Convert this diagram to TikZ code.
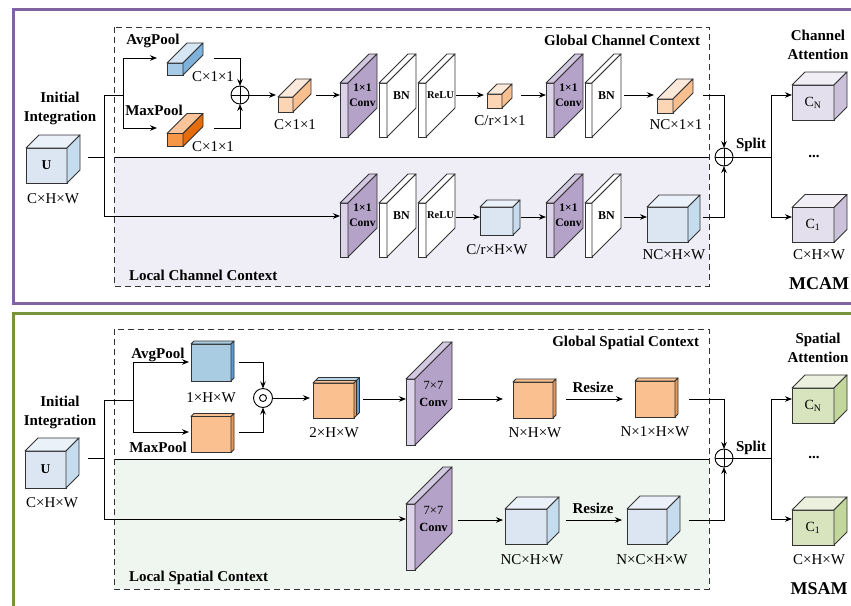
\documentclass[tikz,border=0pt]{standalone}
\usepackage{fontspec}
\setmainfont{Liberation Serif}
\usetikzlibrary{arrows.meta}
\definecolor{mpurple}{HTML}{8064A2}
\definecolor{mgreen}{HTML}{77933C}
\definecolor{lavbg}{HTML}{EFEDF5}
\definecolor{grnbg}{HTML}{EFF5EF}
\definecolor{edgec}{HTML}{333333}
\definecolor{convside}{HTML}{B4A2C8}
\definecolor{convfront}{HTML}{DCD3E8}
\definecolor{convtop}{HTML}{D3C8E1}
\definecolor{bbfront}{HTML}{A7CBE6}
\definecolor{bbtop}{HTML}{D6E6F4}
\definecolor{bbside}{HTML}{7FB2DA}
\definecolor{obfront}{HTML}{F79646}
\definecolor{obtop}{HTML}{FBC49A}
\definecolor{obside}{HTML}{E46C0A}
\definecolor{pfront}{HTML}{FCD5B4}
\definecolor{ptop}{HTML}{FDE9D9}
\definecolor{pside}{HTML}{F9BF8F}
\definecolor{lbfront}{HTML}{DCE6F2}
\definecolor{lbtop}{HTML}{EAF1F9}
\definecolor{lbside}{HTML}{C5DCEF}
\definecolor{pufront}{HTML}{E4DFEC}
\definecolor{putop}{HTML}{F1EEF6}
\definecolor{puside}{HTML}{CCC1DA}
\definecolor{gfront}{HTML}{D7E4BD}
\definecolor{gtop}{HTML}{EBF1DE}
\definecolor{gside}{HTML}{C3D69B}
\definecolor{sqblue}{HTML}{A9CCE3}
\definecolor{sqblueside}{HTML}{5B9BD5}
\definecolor{sqor}{HTML}{FAC090}
\definecolor{sqorside}{HTML}{E59A5A}
\definecolor{sqbl2}{HTML}{B7D7E8}
% name, cx, cy, w, h, depth, front, top, side
\newcommand\cuboid[9]{%
  \node[face, fill=#7, minimum width=#4pt, minimum height=#5pt] (#1) at (#2,#3) {};
  \draw[edge, fill=#8] (#1.north west) -- ++(#6,-#6) -- ++(#4,0) -- (#1.north east) -- cycle;
  \draw[edge, fill=#9] (#1.north east) -- ++(#6,-#6) -- ++(0,#5) -- (#1.south east) -- cycle;
}
\newcommand\oplusnode[3]{%
  \node[opl] (#1) at (#2,#3) {};
  \draw[conn] (#1.north) -- (#1.south) (#1.west) -- (#1.east);
}
\begin{document}
\begin{tikzpicture}[x=1pt,y=-1pt,
  every node/.style={inner sep=0pt, outer sep=0pt},
  face/.style={draw=edgec, line width=0.9pt, rectangle},
  edge/.style={draw=edgec, line width=0.9pt, line join=round},
  conn/.style={line width=0.9pt, draw=black},
  arr/.style={conn, -{Stealth[length=7pt,width=5.5pt]}},
  lbl/.style={font=\fontsize{15}{17}\selectfont},
  blbl/.style={font=\bfseries\fontsize{15}{19}\selectfont, align=center},
  convt/.style={font=\bfseries\fontsize{11.5}{15}\selectfont, align=center},
  bnt/.style={font=\bfseries\fontsize{12}{13}\selectfont},
  relut/.style={font=\bfseries\fontsize{10.5}{12}\selectfont},
  bigconv/.style={font=\fontsize{12.5}{17}\selectfont, align=center},
  subt/.style={font=\fontsize{14}{15}\selectfont},
  ctx/.style={dash pattern=on 6pt off 4pt, line width=0.9pt, draw=edgec},
  opl/.style={circle, draw, line width=0.9pt, minimum size=18pt, fill=white},
  odl/.style={circle, draw, line width=0.9pt, minimum size=19pt, fill=white},
]
\useasboundingbox (0,0) rectangle (851,605);
\clip (0,0) rectangle (851,605);
\fill[white] (0,0) rectangle (851,605);

% ================= MCAM panel =================
\draw[mpurple, line width=3pt] (13.5,9.5) rectangle (880,303);
\fill[lavbg] (114,157) rectangle (709,286);
\draw[conn] (114,157) -- (709,157);
\draw[ctx] (114,27) rectangle (709,286);
\node[blbl, anchor=east] (gcc) at (700,40) {Global Channel Context};
\node[blbl, anchor=west] (lcc) at (129,275) {Local Channel Context};

\node[blbl] (ii1) at (60,108) {Initial\\Integration};
\cuboid{u1}{46.5}{165.5}{41}{35}{13}{lbfront}{lbtop}{lbside}
\node[font=\bfseries\fontsize{13.5}{15}\selectfont] (u1t) at (u1) {U};
\node[lbl] (u1l) at (53,199) {C×H×W};

\coordinate (u1o) at (88,157);
\coordinate (j1a) at (104,95);
\coordinate (j1b) at (104,216);
\coordinate (j1c) at (123,95);
\coordinate (j1d) at (123,58);
\coordinate (j1e) at (123,128);
\draw[conn] (u1o) -- (u1o -| j1a);
\draw[conn] (j1a) -- (j1b);
\draw[conn] (j1a) -- (j1c);
\draw[conn] (j1d) -- (j1e);

\node[blbl] (avgl) at (153,41) {AvgPool};
\node[blbl] (maxl) at (154,110) {MaxPool};
\cuboid{avgb}{175}{69}{16}{12}{20}{bbfront}{bbtop}{bbside}
\cuboid{maxb}{175}{140}{16}{13}{20}{obfront}{obtop}{obside}
\draw[arr] (j1d) -- ([xshift=-10]avgb.west |- j1d);
\draw[arr] (j1e) -- ([xshift=-10]maxb.west |- j1e);
\node[lbl] (avgd) at (213,77) {C×1×1};
\node[lbl] (maxd) at (213,147) {C×1×1};

\oplusnode{add1}{240}{95}
\coordinate (avgo) at (214,58);
\coordinate (maxo) at (214,128);
\draw[arr] (avgo) -| (add1.north);
\draw[arr] (maxo) -| (add1.south);

\cuboid{pc1}{285.5}{104.5}{15}{15}{18}{pfront}{ptop}{pside}
\draw[arr] (add1.east) -- ([xshift=-2]pc1.west |- add1);
\node[lbl] (pc1l) at (295,125) {C×1×1};
\coordinate (pc1o) at (316,95);

\cuboid{conv1}{344}{110}{8}{54}{29}{convfront}{convtop}{convside}
\node[convt] (conv1t) at ([shift={(14.5,-14.5)}]conv1.east) {1×1\\Conv};
\draw[arr] (pc1o) -- (conv1.west |- pc1o);
\cuboid{bn1}{383}{110}{8}{54}{29}{white}{white}{white}
\node[bnt] (bn1t) at ([shift={(14.5,-14.5)}]bn1.east) {BN};
\cuboid{relu1}{422}{110}{8}{54}{29}{white}{white}{white}
\node[relut] (relu1t) at ([shift={(14.5,-14.5)}]relu1.east) {ReLU};
\coordinate (relu1o) at (456,95);

\cuboid{pc2}{494.5}{101}{15}{14}{10}{pfront}{ptop}{pside}
\draw[arr] (relu1o) -- ([xshift=-3]pc2.west |- relu1o);
\node[lbl] (pc2l) at (500,121) {C/r×1×1};
\coordinate (pc2o) at (521,95);

\cuboid{conv2}{550}{110}{8}{54}{29}{convfront}{convtop}{convside}
\node[convt] (conv2t) at ([shift={(14.5,-14.5)}]conv2.east) {1×1\\Conv};
\draw[arr] (pc2o) -- (conv2.west |- pc2o);
\cuboid{bn2}{588.5}{110}{7}{54}{29}{white}{white}{white}
\node[bnt] (bn2t) at ([shift={(14.5,-14.5)}]bn2.east) {BN};
\coordinate (bn2o) at (624,95);

\cuboid{pc3}{665}{106}{16}{14}{20}{pfront}{ptop}{pside}
\draw[arr] (bn2o) -- ([xshift=-3]pc3.west |- bn2o);
\node[lbl] (pc3l) at (676,125) {NC×1×1};
\coordinate (pc3o) at (703,95);

\oplusnode{add2}{724}{157}
\draw[arr] (pc3o) -| (add2.north);

% local channel row
\cuboid{conv3}{344}{230}{8}{54}{29}{convfront}{convtop}{convside}
\node[convt] (conv3t) at ([shift={(14.5,-14.5)}]conv3.east) {1×1\\Conv};
\draw[arr] (j1b) -- (conv3.west |- j1b);
\cuboid{bn3}{383}{230}{8}{54}{29}{white}{white}{white}
\node[bnt] (bn3t) at ([shift={(14.5,-14.5)}]bn3.east) {BN};
\cuboid{relu3}{422}{230}{8}{54}{29}{white}{white}{white}
\node[relut] (relu3t) at ([shift={(14.5,-14.5)}]relu3.east) {ReLU};
\coordinate (relu3o) at (456,217);

\cuboid{cr}{496.5}{221}{33}{28}{7}{lbfront}{lbtop}{lbside}
\draw[arr] (relu3o) -- (cr.west |- relu3o);
\node[lbl] (crl) at (497,250) {C/r×H×W};
\coordinate (cro) at (521,217);

\cuboid{conv4}{550}{230}{8}{54}{29}{convfront}{convtop}{convside}
\node[convt] (conv4t) at ([shift={(14.5,-14.5)}]conv4.east) {1×1\\Conv};
\draw[arr] (cro) -- (conv4.west |- cro);
\cuboid{bn4}{588.5}{230}{7}{54}{29}{white}{white}{white}
\node[bnt] (bn4t) at ([shift={(14.5,-14.5)}]bn4.east) {BN};
\coordinate (bn4o) at (624,217);

\cuboid{nc1}{667.5}{224.5}{41}{35}{12}{lbfront}{lbtop}{lbside}
\draw[arr] (bn4o) -- (nc1.west |- bn4o);
\node[lbl] (nc1l) at (674,255) {NC×H×W};
\coordinate (nc1o) at (703,217);
\draw[arr] (nc1o) -| (add2.south);

% outputs
\coordinate (sp1) at (771,157);
\coordinate (sp1t) at (771,95);
\coordinate (sp1b) at (771,217);
\draw[conn] (add2.east) -- (sp1);
\draw[conn] (sp1t) -- (sp1b);
\node[blbl] (split1) at (751,145) {Split};
\cuboid{cn1}{813}{102.5}{42}{35}{13}{pufront}{putop}{puside}
\node[subt] (cn1t) at (cn1) {C\textsubscript{N}};
\cuboid{co1}{813}{225}{42}{35}{13}{pufront}{putop}{puside}
\node[subt] (co1t) at (co1) {C\textsubscript{1}};
\draw[arr] (sp1t) -- (cn1.west |- sp1t);
\draw[arr] (sp1b) -- (co1.west |- sp1b);
\node[blbl] (ca) at (818,45) {Channel\\Attention};
\node[blbl] (dots1) at (814,156) {...};
\node[lbl] (co1l) at (819,255) {C×H×W};
\node[font=\bfseries\fontsize{18}{20}\selectfont] (mcam) at (819,284) {MCAM};

% ================= MSAM panel =================
\draw[mgreen, line width=3pt] (13.5,313) rectangle (880,640);
\fill[grnbg] (114,459) rectangle (709,589);
\draw[conn] (114,459) -- (709,459);
\draw[ctx] (114,329) rectangle (709,589);
\node[blbl, anchor=east] (gsc) at (699,343) {Global Spatial Context};
\node[blbl, anchor=west] (lsc) at (129,578) {Local Spatial Context};

\node[blbl] (ii2) at (60,412) {Initial\\Integration};
\cuboid{u2}{45.5}{469.5}{41}{37}{13}{lbfront}{lbtop}{lbside}
\node[font=\bfseries\fontsize{13.5}{15}\selectfont] (u2t) at (u2) {U};
\node[lbl] (u2l) at (52,503) {C×H×W};

\coordinate (u2o) at (88,458);
\coordinate (j2a) at (104,400);
\coordinate (j2b) at (104,519);
\coordinate (j2c) at (133,400);
\coordinate (j2d) at (133,362);
\coordinate (j2e) at (133,432);
\draw[conn] (u2o) -- (u2o -| j2a);
\draw[conn] (j2a) -- (j2b);
\draw[conn] (j2a) -- (j2c);
\draw[conn] (j2d) -- (j2e);

\cuboid{avgs}{211}{362.5}{40}{37}{3}{sqblue}{sqblue}{sqblueside}
\cuboid{maxs}{211}{434.5}{40}{36}{3}{sqor}{sqor}{sqorside}
\draw[arr] (j2d) -- ([xshift=-2]avgs.west |- j2d);
\draw[arr] (j2e) -- ([xshift=-2]maxs.west |- j2e);
\node[blbl, anchor=base] (avgl2) at (158,358) {AvgPool};
\node[blbl] (maxl2) at (158,447) {MaxPool};
\node[lbl] (avgd2) at (211,398) {1×H×W};

\node[odl] (had) at (263,398) {};
\node[circle, draw, line width=0.9pt, minimum size=7pt] (hadc) at (had) {};
\coordinate (avgso) at (239,362);
\coordinate (maxso) at (239,432);
\draw[arr] (avgso) -| (had.north);
\draw[arr] (maxso) -| (had.south);

\cuboid{twob}{336}{398}{41}{35}{3}{sqbl2}{sqbl2}{sqblueside}
\cuboid{two}{333.5}{400.5}{41}{35}{2.5}{sqor}{sqor}{sqorside}
\draw[arr] (had.east) -- ([xshift=-3]two.west |- had);
\node[lbl] (twol) at (334,433) {2×H×W};
\coordinate (twoo) at (363,399);

\cuboid{conv5}{410.5}{412}{9}{66}{37}{convfront}{convtop}{convside}
\node[bigconv] (conv5t) at ([shift={(18.5,-18.5)}]conv5.east) {7×7\\\textbf{Conv}};
\draw[arr] (twoo) -- (conv5.west |- twoo);
\coordinate (conv5o) at (458,399);

\cuboid{nhw}{533}{400}{40}{36}{3}{sqor}{sqor}{sqorside}
\draw[arr] (conv5o) -- ([xshift=-10]nhw.west |- conv5o);
\node[lbl] (nhwl) at (535,433) {N×H×W};
\coordinate (nhwo) at (566,399);

\cuboid{n1hw}{655}{399}{40}{36}{3}{sqor}{sqor}{sqorside}
\draw[arr] (nhwo) -- ([xshift=-12]n1hw.west |- nhwo);
\node[blbl] (rs1) at (593,387) {Resize};
\node[lbl] (n1hwl) at (655,432) {N×1×H×W};
\coordinate (n1hwo) at (689,399);

\oplusnode{add3}{724}{458}
\draw[arr] (n1hwo) -| (add3.north);

% local spatial row
\cuboid{conv6}{410.5}{537}{9}{66}{37}{convfront}{convtop}{convside}
\node[bigconv] (conv6t) at ([shift={(18.5,-18.5)}]conv6.east) {7×7\\\textbf{Conv}};
\draw[arr] (j2b) -- (conv6.west |- j2b);
\coordinate (conv6o) at (458,520);

\cuboid{nc2}{526}{526.5}{42}{35}{12}{lbfront}{lbtop}{lbside}
\draw[arr] (conv6o) -- ([xshift=-2]nc2.west |- conv6o);
\node[lbl] (nc2l) at (532,560) {NC×H×W};
\coordinate (nc2o) at (566,520);

\cuboid{nc3}{647}{526.5}{40}{35}{13}{lbfront}{lbtop}{lbside}
\draw[arr] (nc2o) -- ([xshift=-5]nc3.west |- nc2o);
\node[blbl] (rs2) at (593,508) {Resize};
\node[lbl] (nc3l) at (652,560) {N×C×H×W};
\coordinate (nc3o) at (689,520);
\draw[arr] (nc3o) -| (add3.south);

% outputs
\coordinate (sp2) at (771,458);
\coordinate (sp2t) at (771,399);
\coordinate (sp2b) at (771,519);
\draw[conn] (add3.east) -- (sp2);
\draw[conn] (sp2t) -- (sp2b);
\node[blbl] (split2) at (751,448) {Split};
\cuboid{cn2}{813}{405.5}{42}{35}{13}{gfront}{gtop}{gside}
\node[subt] (cn2t) at (cn2) {C\textsubscript{N}};
\cuboid{co2}{813}{527.5}{42}{35}{13}{gfront}{gtop}{gside}
\node[subt] (co2t) at (co2) {C\textsubscript{1}};
\draw[arr] (sp2t) -- (cn2.west |- sp2t);
\draw[arr] (sp2b) -- (co2.west |- sp2b);
\node[blbl] (sa) at (818,348) {Spatial\\Attention};
\node[blbl] (dots2) at (814,457) {...};
\node[lbl] (co2l) at (819,560) {C×H×W};
\node[font=\bfseries\fontsize{18}{20}\selectfont] (msam) at (819,589) {MSAM};
\end{tikzpicture}
\end{document}
